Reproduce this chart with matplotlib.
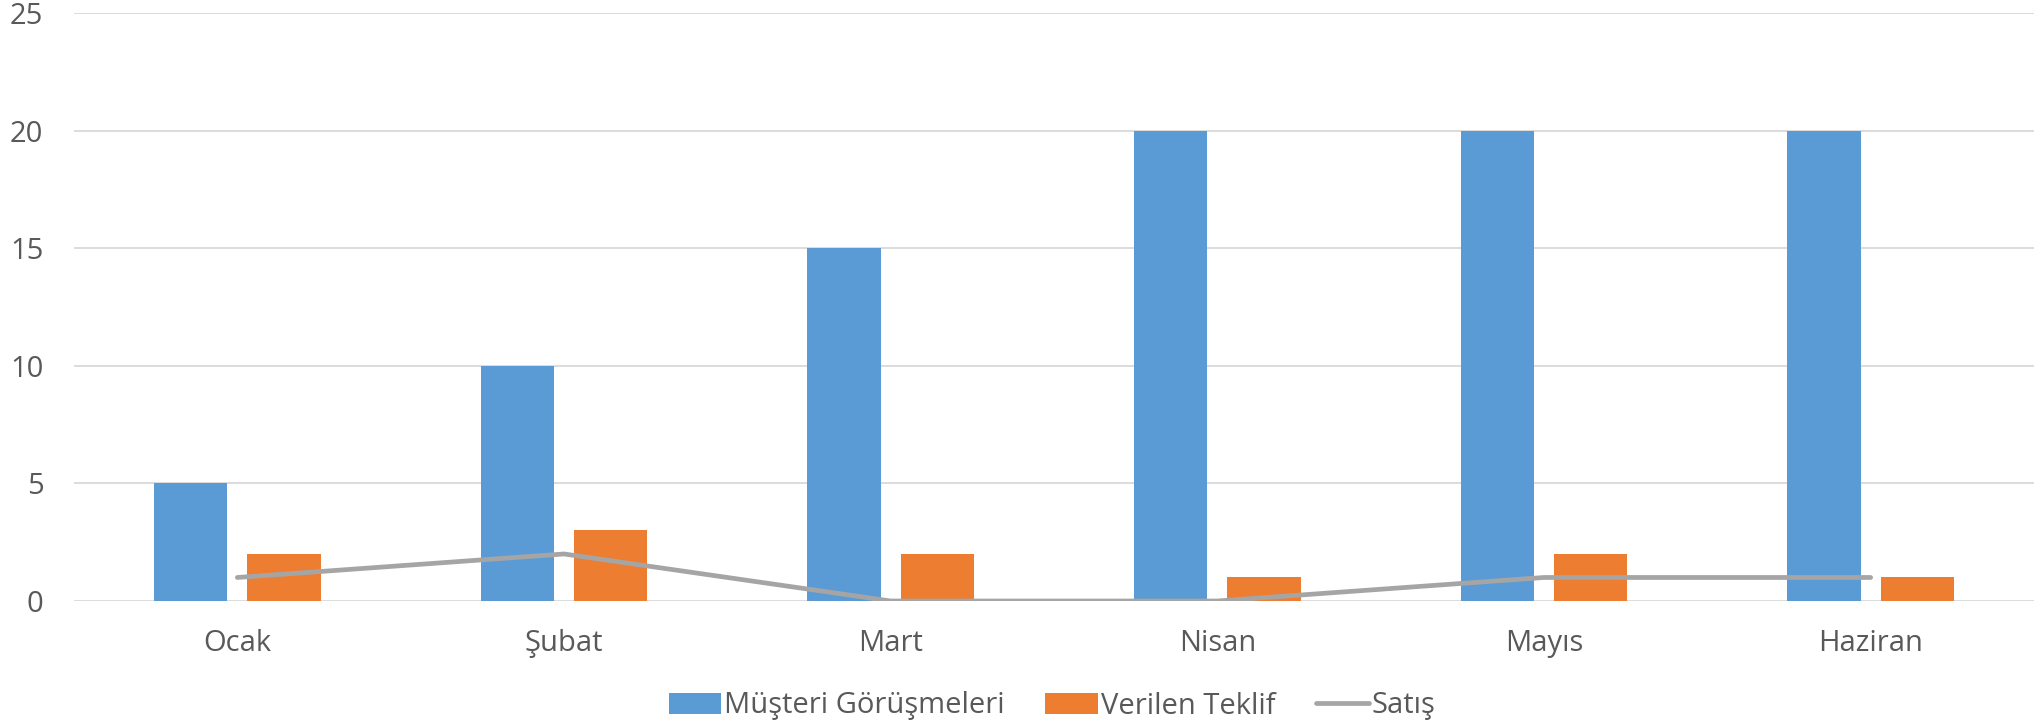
import matplotlib
matplotlib.use("Agg")
import matplotlib.pyplot as plt
import numpy as np

categories = ["Ocak", "Şubat", "Mart", "Nisan", "Mayıs", "Haziran"]
musteri = [5, 10, 15, 20, 20, 20]
teklif = [2, 3, 2, 1, 2, 1]
satis = [1, 2, 0, 0, 1, 1]
yticks = [0, 5, 10, 15, 20, 25]

plt.rcParams['font.family'] = ['Open Sans', 'DejaVu Sans']
txt = '#595959'

fig = plt.figure(figsize=(20.34, 7.26), dpi=100)
ax = fig.add_axes([74/2034, 1-601/726, 1-74/2034, (601-13)/726])

x = np.arange(len(categories))
w = 0.224
off = 0.143
b1 = ax.bar(x - off, musteri, w, color='#5b9bd5', label='Müşteri Görüşmeleri', zorder=2)
b2 = ax.bar(x + off, teklif, w, color='#ed7d31', label='Verilen Teklif', zorder=2)
l1, = ax.plot(x, satis, color='#a5a5a5', lw=3.4, solid_capstyle='round', label='Satış', zorder=3)

ax.set_xlim(-0.5, len(categories) - 0.5)
ax.set_ylim(0, 25)
ax.set_yticks(yticks)
ax.set_xticks(x)
ax.set_xticklabels(categories)
ax.grid(axis='y', color='#d9d9d9', lw=1.3, zorder=0)
ax.set_axisbelow(True)
for s in ax.spines.values():
    s.set_visible(False)
ax.tick_params(axis='both', length=0, labelsize=21, colors=txt)
ax.tick_params(axis='x', pad=20)
ax.tick_params(axis='y', pad=22)

leg = fig.legend(handles=[b1, b2, l1], loc='center', bbox_to_anchor=(1052/2034, 1-706/726), ncol=3,
                 frameon=False, fontsize=21, labelcolor=txt, handlelength=1.8, handletextpad=0.1,
                 columnspacing=1.4, handleheight=0.7)
fig.savefig('out.png', dpi=100)
